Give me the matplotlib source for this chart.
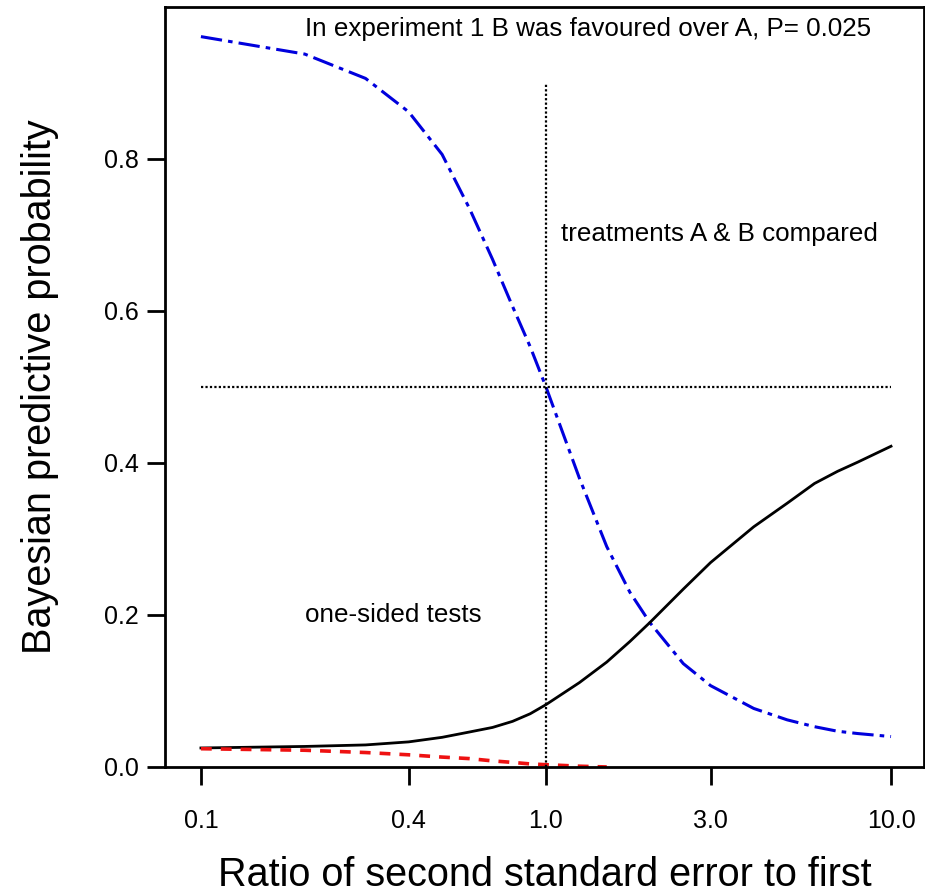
import matplotlib.pyplot as plt

plt.rcParams['font.family'] = ['Liberation Sans', 'DejaVu Sans']

# ratio of second standard error to first
ratio = [0.1, 0.2, 0.3, 0.4, 0.5, 0.6, 0.7, 0.8, 0.9, 1.0,
         1.25, 1.5, 1.75, 2.0, 2.5, 3.0, 4.0, 5.0, 6.0, 7.0, 8.0, 10.0]

# treatments A & B compared (two-sided)
p_compared = [0.961, 0.938, 0.906, 0.862, 0.806, 0.735, 0.668, 0.606, 0.553, 0.500,
              0.380, 0.290, 0.230, 0.190, 0.136, 0.107, 0.077, 0.062, 0.053, 0.047,
              0.044, 0.040]

# one-sided tests
p_one_sided = [0.025, 0.027, 0.029, 0.033, 0.039, 0.046, 0.052, 0.060, 0.070, 0.082,
               0.111, 0.138, 0.165, 0.190, 0.234, 0.269, 0.316, 0.347, 0.373, 0.389,
               0.401, 0.422]

# red dashed curve, only drawn while it is above zero
ratio_red = [0.1, 0.2, 0.3, 0.4, 0.5, 0.6, 0.7, 0.8, 0.9, 1.0, 1.25, 1.5]
p_red = [0.024, 0.022, 0.019, 0.016, 0.013, 0.011, 0.008, 0.006, 0.004, 0.003,
         0.001, 0.0]

xticks = [0.1, 0.4, 1.0, 3.0, 10.0]
xtick_labels = ['0.1', '0.4', '1.0', '3.0', '10.0']
yticks = [0.0, 0.2, 0.4, 0.6, 0.8]
ytick_labels = ['0.0', '0.2', '0.4', '0.6', '0.8']


def main():
    fig = plt.figure(figsize=(9.25, 8.94), dpi=100)
    ax = fig.add_axes([0.1784, 0.1421, 0.8205, 0.8501])

    ax.plot(ratio, p_compared, color='#0000dd', lw=2.2, linestyle=(0, (7, 2, 1.5, 2)))
    ax.plot(ratio, p_one_sided, color='black', lw=2.0)
    ax.plot(ratio_red, p_red, color='#ee1111', lw=2.6, linestyle=(0, (3, 2.5)))

    ax.plot([0.1, 10.0], [0.5, 0.5], color='black', lw=1.6, linestyle=(0, (1, 1)))
    ax.plot([1.0, 1.0], [0.0, 0.9], color='black', lw=1.6, linestyle=(0, (1, 1)))

    ax.set_xscale('log')
    ax.set_xlim(0.0787, 12.46)
    ax.set_ylim(0, 1.0)
    ax.set_xticks(xticks)
    ax.set_xticklabels(xtick_labels, fontsize=18)
    ax.minorticks_off()
    ax.set_yticks(yticks)
    ax.set_yticklabels(ytick_labels, fontsize=18)
    ax.tick_params(axis='x', direction='out', length=13, width=2, pad=17)
    ax.tick_params(axis='y', direction='out', length=13, width=2, pad=6)

    for side in ax.spines.values():
        side.set_linewidth(2)

    ax.text(0.2, 0.971, 'In experiment 1 B was favoured over A, P= 0.025',
            fontsize=18.7, va='center', ha='left')
    ax.text(1.105, 0.701, 'treatments A & B compared', fontsize=18.7, va='center', ha='left')
    ax.text(0.2, 0.2, 'one-sided tests', fontsize=18.7, va='center', ha='left')

    ax.set_xlabel('Ratio of second standard error to first', fontsize=28.5, labelpad=17)
    ax.set_ylabel('Bayesian predictive probability', fontsize=28.5, labelpad=32)

    fig.savefig('out.png', dpi=100)


if __name__ == "__main__":
    main()
